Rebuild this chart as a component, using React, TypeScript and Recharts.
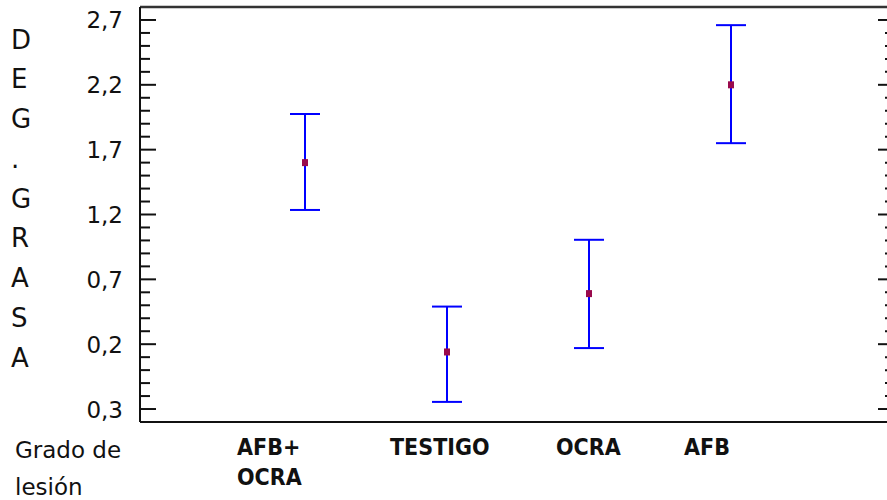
import { ComposedChart, Line, XAxis, YAxis, ErrorBar, ReferenceLine } from 'recharts';

// group names, means and the ends of each interval
const categories = ['AFB+ OCRA', 'TESTIGO', 'OCRA', 'AFB'];
const means = [1.6, 0.14, 0.59, 2.2];
const lowers = [1.235, -0.245, 0.17, 1.75];
const uppers = [1.975, 0.49, 1.005, 2.66];

const majorTicks = [-0.3, 0.2, 0.7, 1.2, 1.7, 2.2, 2.7];
const majorTickLabels = ['0,3', '0,2', '0,7', '1,2', '1,7', '2,2', '2,7'];
const yTitle = 'DEG.GRASA';
const xTitle = ['Grado de', 'lesión'];

const Y_MIN = -0.4;
const Y_MAX = 2.8;

const FONT = "'DejaVu Sans', sans-serif";
const AXIS_COLOR = '#111';
const BAR_COLOR = '#0000ff';
const MEAN_COLOR = '#990a4c';
// labels under the axis are not centred on the points in the original
const LABEL_DX = [-68, -57, -33, -47];

// 4 minor ticks between each pair of majors
const minorTicks: number[] = [];
majorTicks.forEach((t, i) => {
  if (i === majorTicks.length - 1) return;
  for (let k = 1; k < 5; k++) minorTicks.push(Math.round((t + k * 0.1) * 10) / 10);
});
const allTicks = [...majorTicks, ...minorTicks].sort((a, b) => a - b);

const majorIndex = (v: number) => majorTicks.findIndex((t) => Math.abs(t - v) < 1e-6);

const data = categories.map((name, i) => ({
  name,
  mean: means[i],
  err: [means[i] - lowers[i], uppers[i] - means[i]],
}));

function LeftTick(props: any) {
  const { x, y, payload } = props;
  const idx = majorIndex(payload.value);
  const major = idx >= 0;
  return (
    <g>
      <line x1={x} x2={x + (major ? 16 : 10)} y1={y} y2={y} stroke={AXIS_COLOR} strokeWidth={2} />
      {major && (
        <text x={x - 17} y={y + 8.5} textAnchor="end" fontSize={23} fontFamily={FONT} fill="#111">
          {majorTickLabels[idx]}
        </text>
      )}
    </g>
  );
}

function RightTick(props: any) {
  const { x, y, payload } = props;
  const major = majorIndex(payload.value) >= 0;
  return <line x1={x} x2={x - (major ? 17 : 10)} y1={y} y2={y} stroke={AXIS_COLOR} strokeWidth={2} />;
}

function CategoryTick(props: any) {
  const { x, y, payload, index } = props;
  const lines = String(payload.value).split(' ');
  return (
    <text
      x={x + LABEL_DX[index]}
      y={y + 33}
      textAnchor="start"
      fontSize={23}
      fontWeight="bold"
      fontFamily="'DejaVu Sans Condensed', 'Liberation Sans', sans-serif"
      fill="#111"
    >
      {lines.map((l, i) => (
        <tspan key={i} x={x + LABEL_DX[index]} dy={i === 0 ? 0 : 30}>
          {l}
        </tspan>
      ))}
    </text>
  );
}

function MeanDot(props: any) {
  const { cx, cy, index } = props;
  if (cx == null || cy == null) return <g key={`d-${index}`} />;
  return <rect key={`d-${index}`} x={cx - 3} y={cy - 3.5} width={6} height={7} fill={MEAN_COLOR} />;
}

export default function App() {
  return (
    <div style={{ position: 'absolute', left: 0, top: 0, width: 887, height: 500, overflow: 'hidden', background: '#fff' }}>
      <ComposedChart width={900} height={500} data={data} margin={{ top: 7, right: 0, left: 0, bottom: 0 }}>
        <XAxis
          dataKey="name"
          type="category"
          scale="point"
          padding={{ left: 165, right: 164 }}
          height={78}
          axisLine={{ stroke: AXIS_COLOR, strokeWidth: 2 }}
          tickLine={false}
          tickSize={0}
          tickMargin={0}
          interval={0}
          tick={<CategoryTick />}
        />
        <YAxis
          yAxisId="left"
          orientation="left"
          type="number"
          width={140}
          domain={[Y_MIN, Y_MAX]}
          allowDataOverflow
          ticks={allTicks}
          interval={0}
          tickSize={0}
          tickMargin={0}
          tickLine={false}
          axisLine={{ stroke: AXIS_COLOR, strokeWidth: 2 }}
          tick={<LeftTick />}
        />
        <YAxis
          yAxisId="right"
          orientation="right"
          type="number"
          width={5}
          domain={[Y_MIN, Y_MAX]}
          allowDataOverflow
          ticks={allTicks}
          interval={0}
          tickSize={0}
          tickMargin={0}
          tickLine={false}
          axisLine={{ stroke: AXIS_COLOR, strokeWidth: 2 }}
          tick={<RightTick />}
        />
        <ReferenceLine yAxisId="left" y={Y_MAX} stroke="#333" strokeWidth={2.5} />
        <Line
          yAxisId="left"
          dataKey="mean"
          stroke="none"
          dot={MeanDot}
          activeDot={false}
          isAnimationActive={false}
        >
          <ErrorBar dataKey="err" direction="y" width={15} stroke={BAR_COLOR} strokeWidth={2} isAnimationActive={false} />
        </Line>
      </ComposedChart>
      <svg
        width={887}
        height={500}
        style={{ position: 'absolute', left: 0, top: 0, pointerEvents: 'none' }}
      >
        <text x={11} y={48.5} fontSize={26} fontFamily={FONT} fill="#111">
          {yTitle.split('').map((c, i) => (
            <tspan key={i} x={11} dy={i === 0 ? 0 : 39.75}>
              {c}
            </tspan>
          ))}
        </text>
        <text x={15} y={458} fontSize={23} fontFamily={FONT} fill="#111">
          {xTitle[0]}
        </text>
        <text x={15} y={495} fontSize={23} fontFamily={FONT} fill="#111">
          {xTitle[1]}
        </text>
      </svg>
    </div>
  );
}
